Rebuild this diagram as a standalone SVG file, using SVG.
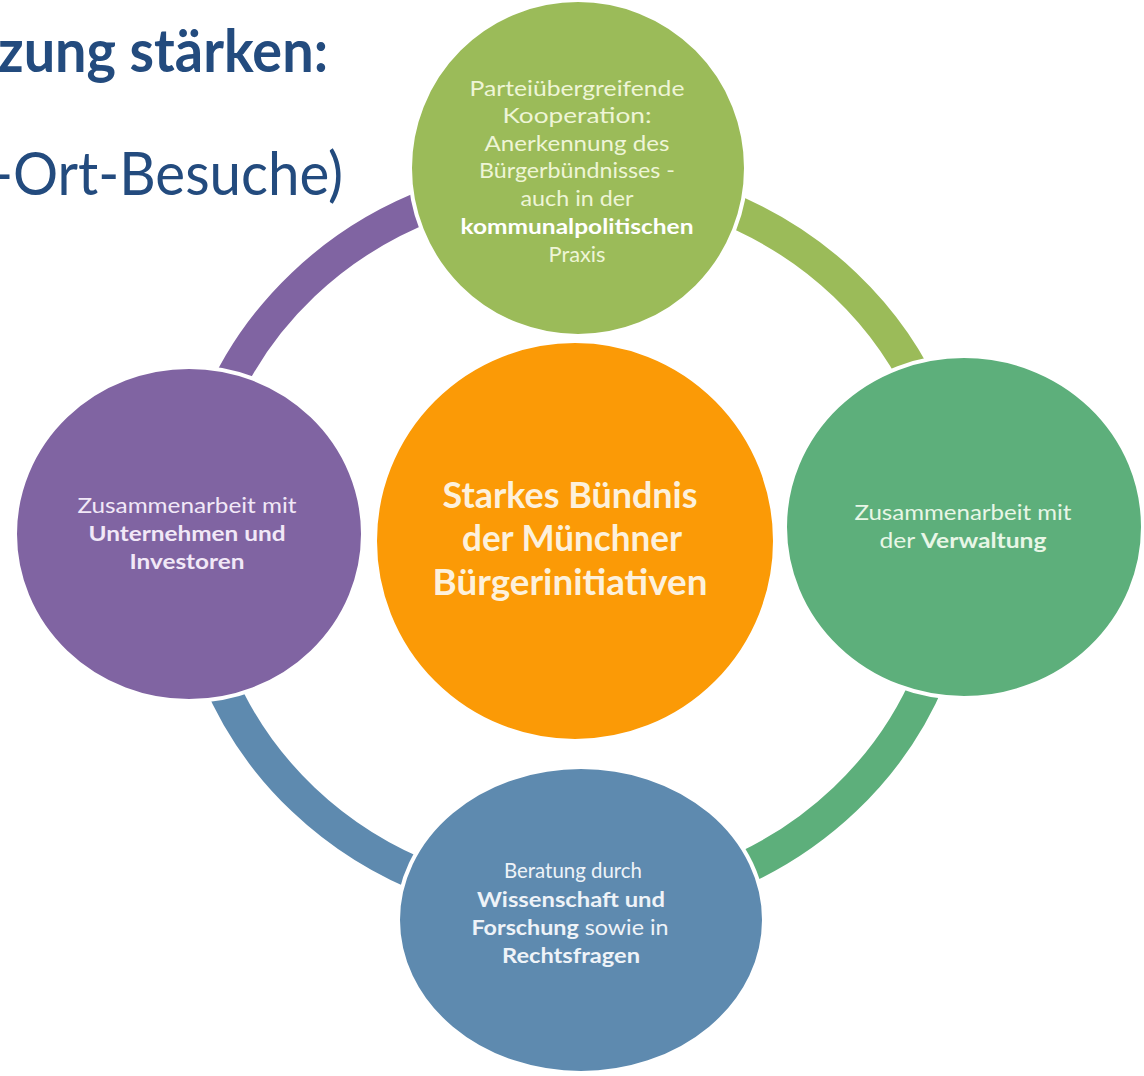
<svg xmlns="http://www.w3.org/2000/svg" width="1144" height="1076" viewBox="0 0 1144 1076">
<style>
.hd{font-family:Lato,"Open Sans","Liberation Sans",sans-serif;fill:#234b7e}
.t{font-family:Lato,"Open Sans","Liberation Sans",sans-serif;font-size:21px;text-anchor:middle}
.b{font-weight:bold}
.ring{fill:none;stroke-width:33}
.node{stroke:#ffffff;stroke-width:4}
</style>
<rect width="1144" height="1076" fill="#ffffff"/>
<text class="hd" x="-2" y="72" font-size="60" font-weight="bold" textLength="330" lengthAdjust="spacingAndGlyphs">zung stärken:</text>
<text class="hd" x="-8" y="195" font-size="60" textLength="351" lengthAdjust="spacingAndGlyphs">-Ort-Besuche)</text>
<g id="connectors">
<path class="ring" stroke="#8064a2" d="M 191 542 A 383 364 0 0 1 574 178"/>
<path class="ring" stroke="#9bbb59" d="M 574 178 A 383 364 0 0 1 957 542"/>
<path class="ring" stroke="#5daf7b" d="M 957 542 A 383 364 0 0 1 574 906"/>
<path class="ring" stroke="#5e8aaf" d="M 574 906 A 383 364 0 0 1 191 542"/>
</g>
<g id="node-top">
<circle class="node" cx="578" cy="168" r="168" fill="#9bbb59"/>
<g class="t" fill="#eef5d6">
<text x="577" y="96" textLength="215" lengthAdjust="spacingAndGlyphs">Parteiübergreifende</text>
<text x="577" y="123" textLength="149" lengthAdjust="spacingAndGlyphs">Kooperation:</text>
<text x="577" y="151" textLength="185" lengthAdjust="spacingAndGlyphs">Anerkennung des</text>
<text x="577" y="178" textLength="196" lengthAdjust="spacingAndGlyphs">Bürgerbündnisses -</text>
<text x="577" y="206" textLength="113" lengthAdjust="spacingAndGlyphs">auch in der</text>
<text x="577" y="234" class="b" fill="#ffffff" textLength="233" lengthAdjust="spacingAndGlyphs">kommunalpolitischen</text>
<text x="577" y="262" textLength="57" lengthAdjust="spacingAndGlyphs">Praxis</text>
</g>
</g>
<g id="node-left">
<ellipse class="node" cx="189" cy="534" rx="174" ry="167" fill="#8064a2"/>
<g class="t" fill="#f1e8f7">
<text x="187" y="513" textLength="219" lengthAdjust="spacingAndGlyphs">Zusammenarbeit mit</text>
<text x="187" y="541" class="b" textLength="197" lengthAdjust="spacingAndGlyphs">Unternehmen und</text>
<text x="187" y="569" class="b" textLength="115" lengthAdjust="spacingAndGlyphs">Investoren</text>
</g>
</g>
<g id="node-right">
<ellipse class="node" cx="964" cy="527" rx="179" ry="171" fill="#5daf7b"/>
<g class="t" fill="#e8f6e6">
<text x="963" y="520" textLength="217" lengthAdjust="spacingAndGlyphs">Zusammenarbeit mit</text>
<text x="963" y="548" textLength="167" lengthAdjust="spacingAndGlyphs">der <tspan class="b">Verwaltung</tspan></text>
</g>
</g>
<g id="node-bottom">
<ellipse class="node" cx="581" cy="920" rx="183" ry="153" fill="#5e8aaf"/>
<g class="t" fill="#eef3f8">
<text x="573" y="878" textLength="138" lengthAdjust="spacingAndGlyphs">Beratung durch</text>
<text x="571" y="907" class="b" textLength="188" lengthAdjust="spacingAndGlyphs">Wissenschaft und</text>
<text x="570" y="935" textLength="197" lengthAdjust="spacingAndGlyphs"><tspan class="b">Forschung</tspan> sowie in</text>
<text x="571" y="963" class="b" textLength="138" lengthAdjust="spacingAndGlyphs">Rechtsfragen</text>
</g>
</g>
<g id="node-center">
<circle class="node" cx="575" cy="541" r="200" fill="#fb9a06"/>
<g class="t b" fill="#fdf1dc">
<text x="570" y="508" style="font-size:36px" textLength="255" lengthAdjust="spacingAndGlyphs">Starkes Bündnis</text>
<text x="572" y="551" style="font-size:36px" textLength="220" lengthAdjust="spacingAndGlyphs">der Münchner</text>
<text x="570" y="595" style="font-size:36px" textLength="275" lengthAdjust="spacingAndGlyphs">Bürgerinitiativen</text>
</g>
</g>
</svg>
